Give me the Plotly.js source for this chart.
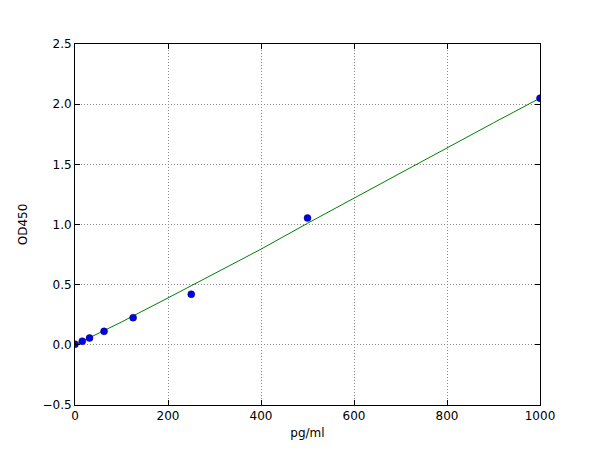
<!DOCTYPE html>
<html>
<head>
<meta charset="utf-8">
<script src="https://cdn.plot.ly/plotly-3.0.1.min.js"></script>
<style>
  html, body { margin: 0; padding: 0; background: #ffffff; }
  #chart { width: 600px; height: 450px; }
</style>
</head>
<body>
<div id="chart"></div>
<script>
  // standard points
  var concentrations = [0, 15.6, 31.25, 62.5, 125, 250, 500, 1000];
  var odValues = [0.005, 0.03, 0.057, 0.112, 0.226, 0.42, 1.054, 2.05];

  // fitted curve
  var fitX = [0, 100, 200, 300, 400, 500, 600, 700, 800, 900, 1000];
  var fitY = [0.0, 0.19, 0.39, 0.59, 0.795, 1.01, 1.22, 1.43, 1.64, 1.845, 2.05];

  var xTicks = [0, 200, 400, 600, 800, 1000];
  var yTicks = [-0.5, 0.0, 0.5, 1.0, 1.5, 2.0, 2.5];

  var fitTrace = {
    x: fitX,
    y: fitY,
    type: 'scatter',
    mode: 'lines',
    line: { color: '#008000', width: 1 },
    hoverinfo: 'skip'
  };

  var pointTrace = {
    x: concentrations,
    y: odValues,
    type: 'scatter',
    mode: 'markers',
    marker: { color: '#0000f0', size: 7, line: { color: '#000050', width: 0.5 } },
    cliponaxis: true
  };

  function axisBase() {
    return {
      showline: true,
      linecolor: '#000000',
      linewidth: 1,
      mirror: 'allticks',
      ticks: 'inside',
      ticklen: 5,
      tickwidth: 1,
      tickcolor: '#000000',
      showgrid: true,
      gridcolor: '#8a8a8a',
      griddash: '1px,2px',
      gridwidth: 1,
      zeroline: false,
      tickfont: { size: 12, color: '#000000' }
    };
  }

  var xaxis = axisBase();
  xaxis.range = [0, 1000];
  xaxis.tickvals = xTicks;
  xaxis.title = { text: 'pg/ml', font: { size: 12, color: '#000000' }, standoff: 6 };

  var yaxis = axisBase();
  yaxis.range = [-0.5, 2.5];
  yaxis.tickvals = yTicks;
  yaxis.tickformat = '.1f';
  yaxis.title = { text: 'OD450', font: { size: 12, color: '#000000' }, standoff: 12 };

  var layout = {
    width: 600,
    height: 450,
    margin: { l: 75, r: 60, t: 44, b: 45 },
    paper_bgcolor: '#ffffff',
    plot_bgcolor: '#ffffff',
    font: { family: 'DejaVu Sans, sans-serif', color: '#000000' },
    showlegend: false,
    xaxis: xaxis,
    yaxis: yaxis
  };

  Plotly.newPlot('chart', [fitTrace, pointTrace], layout, { staticPlot: true });
</script>
</body>
</html>
